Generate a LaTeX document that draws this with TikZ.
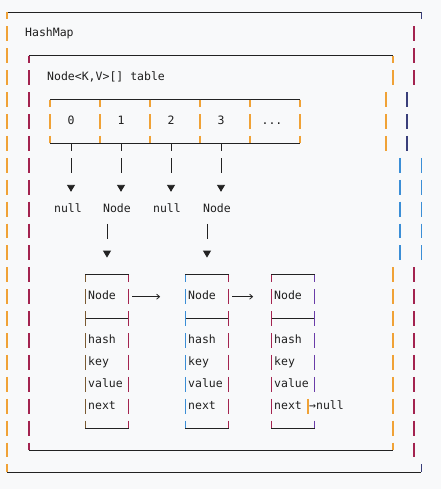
\documentclass[tikz,border=0pt]{standalone}
\usepackage{fontspec}
\setmonofont{DejaVu Sans Mono}
\usetikzlibrary{arrows.meta}

\definecolor{bgcol}{HTML}{F8F9FA}
\definecolor{txtcol}{HTML}{1F1F1F}
\definecolor{rulecol}{HTML}{222222}
\definecolor{gOrange}{HTML}{F0A236}
\definecolor{gCrimson}{HTML}{A3234F}
\definecolor{gBlue}{HTML}{3B8ED6}
\definecolor{gNavy}{HTML}{3A3F7A}
\definecolor{gPurple}{HTML}{6A3CA8}
\definecolor{gBrown}{HTML}{7A5A32}

\tikzset{
  txt/.style={font=\ttfamily\fontsize{11.5}{13}\selectfont, text=txtcol,
    inner sep=0pt, minimum height=15pt, text height=8.5pt, text depth=2.5pt},
  rule/.style={draw=rulecol, line width=0.8pt},
  guide/.style={line width=1.5pt},
  ptr/.style={draw=rulecol, line width=0.9pt,
    dash pattern=on 7.5pt off 7pt on 15pt off 30pt,
    -{Triangle[width=8pt,length=7pt]}},
  ptrlow/.style={draw=rulecol, line width=0.9pt,
    dash pattern=on 15pt off 30pt, dash phase=38pt,
    -{Triangle[width=8pt,length=7pt]}},
  link/.style={draw=rulecol, line width=0.8pt,
    -{Straight Barb[length=3pt,width=5pt]}}
}

% coloured guide bars: colour, x, first row, last row
\newcommand{\gbar}[4]{%
  \foreach \r in {#3,...,#4} \draw[guide,#1] (#2,\r-0.34) -- (#2,\r+0.34);}
% corner stubs
\newcommand{\gdown}[3]{\draw[guide,#1] (#2,#3) -- (#2,#3+0.34);}
\newcommand{\gup}[3]{\draw[guide,#1] (#2,#3-0.34) -- (#2,#3);}

\begin{document}
\begin{tikzpicture}[x=1pt,y=-21.9pt]
  \useasboundingbox[fill=bgcol] (0,-0.548) rectangle (441,21.781);

  % HashMap frame
  \draw[rule] (7,0) -- (421.5,0);
  \draw[rule] (7,21) -- (421.5,21);
  \gdown{gOrange}{7}{0}
  \gbar{gOrange}{7}{1}{20}
  \gup{gOrange}{7}{21}
  \gdown{gNavy}{421.5}{0}
  \gbar{gCrimson}{414}{1}{3}
  \gbar{gNavy}{407}{4}{6}
  \gbar{gBlue}{421.5}{7}{11}
  \gbar{gCrimson}{414}{12}{20}
  \gup{gNavy}{421.5}{21}
  \node[txt, anchor=west] (hm) at (25,1) {HashMap};

  % table frame
  \draw[rule] (29,2) -- (393,2);
  \draw[rule] (29,20) -- (393,20);
  \gdown{gCrimson}{29}{2}
  \gbar{gCrimson}{29}{3}{19}
  \gup{gCrimson}{29}{20}
  \gdown{gOrange}{393}{2}
  \gbar{gOrange}{393}{3}{3}
  \gbar{gOrange}{386}{4}{6}
  \gbar{gBlue}{400}{7}{11}
  \gbar{gOrange}{393}{12}{19}
  \gup{gOrange}{393}{20}
  \node[txt, anchor=west] (tt) at (47,3) {Node<K,V>[] table};

  % array cells
  \node[minimum width=250pt, minimum height=43.8pt, inner sep=0pt] (tab) at (175,5) {};
  \draw[rule] (tab.north west) -- (tab.north east);
  \draw[rule] (tab.south west) -- (tab.south east);
  \foreach \x in {50,100,...,300} {
    \gdown{gOrange}{\x}{4}
    \gbar{gOrange}{\x}{5}{5}
    \gup{gOrange}{\x}{6}
  }
  \foreach \i/\x in {0/71,1/121,2/171,3/221}
    \node[txt] (c\i) at (\x,5) {\i};
  \node[txt] (c4) at (272,5) {...};

  % bucket heads
  \foreach \i/\x/\t in {0/68/null,1/117/Node,2/167/null,3/217/Node}
    \node[txt] (l\i) at (\x,9) {\t};
  \foreach \i in {0,...,3}
    \draw[ptr, shorten >=9.6pt] (tab.south -| c\i) -- (l\i.north -| c\i);

  % node boxes
  \foreach \n/\x/\cl in {1/107/gBrown,2/207/gBlue,3/293/gCrimson} {
    \node[minimum width=43pt, minimum height=153.3pt, inner sep=0pt] (n\n) at (\x,15.5) {};
    \draw[rule] (n\n.north west) -- (n\n.north east);
    \draw[rule] (n\n.south west) -- (n\n.south east);
    \draw[rule] (\x-21.5,14) -- (\x+21.5,14);
    \gdown{\cl}{\x-21.5}{12}
    \gbar{\cl}{\x-21.5}{13}{18}
    \gup{\cl}{\x-21.5}{19}
    \node[txt, anchor=west] (h\n) at (\x-19,13) {Node};
    \foreach \r/\t in {15/hash,16/key,17/value,18/next}
      \node[txt, anchor=west] (f\n\t) at (\x-19,\r) {\t};
  }
  \gdown{gCrimson}{128.5}{12}
  \gbar{gCrimson}{128.5}{13}{18}
  \gup{gCrimson}{128.5}{19}
  \gdown{gCrimson}{228.5}{12}
  \gbar{gCrimson}{228.5}{13}{18}
  \gup{gCrimson}{228.5}{19}
  \gdown{gPurple}{314.5}{12}
  \gbar{gPurple}{314.5}{13}{17}
  \gbar{gOrange}{308}{18}{18}
  \gup{gPurple}{314.5}{19}

  \draw[ptrlow, shorten >=17pt] (l1.south -| n1) -- (n1.north);
  \draw[ptrlow, shorten >=17pt] (l3.south -| n2) -- (n2.north);

  % next links
  \draw[link] ([xshift=3.5pt]n1.east |- h1) -- ++(28,0);
  \draw[link] ([xshift=3.5pt]n2.east |- h2) -- ++(21,0);
  \node[txt, anchor=west] (nil) at (309,18) {→null};
\end{tikzpicture}
\end{document}
